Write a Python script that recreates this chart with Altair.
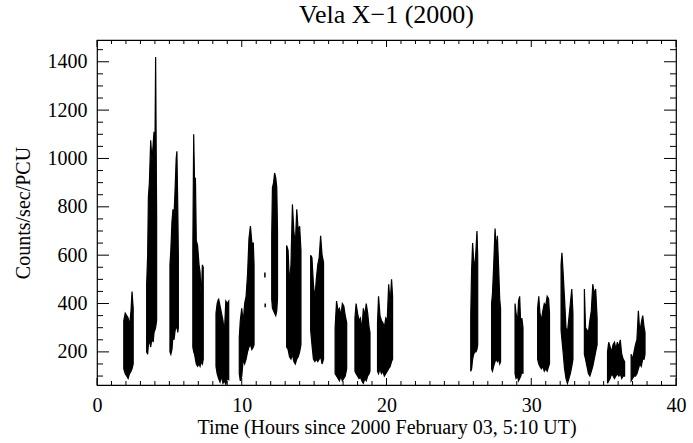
import altair as alt
import pandas as pd

# ---- light-curve data: each segment is a set of (time, low, high) envelope samples ----
seg_t = [
    [1.85, 1.95, 2.05, 2.15, 2.25, 2.35, 2.42, 2.5],
    [3.43, 3.5, 3.55, 3.62, 3.71, 3.8, 3.88, 3.94, 4.0, 4.05, 4.12],
    [5.04, 5.1, 5.18, 5.25, 5.32, 5.4, 5.47, 5.52, 5.58, 5.62],
    [6.62, 6.68, 6.74, 6.8, 6.86, 6.95, 7.05, 7.12, 7.2, 7.28, 7.34],
    [8.22, 8.3, 8.4, 8.5, 8.6, 8.7, 8.8, 8.9, 9.0, 9.1],
    [9.83, 9.9, 10.0, 10.1, 10.2, 10.3, 10.4, 10.5, 10.6, 10.7, 10.8, 10.85],
    [12.07, 12.12, 12.2, 12.27, 12.35, 12.42, 12.47],
    [13.1, 13.2, 13.3, 13.4, 13.5, 13.6, 13.7, 13.8, 13.9, 14.0, 14.09],
    [14.76, 14.85, 14.95, 15.05, 15.15, 15.25, 15.35, 15.45, 15.55, 15.65],
    [16.45, 16.55, 16.65, 16.75, 16.85, 16.95, 17.05, 17.15, 17.25],
    [17.82, 17.9, 18.0, 18.1, 18.2, 18.3, 18.4, 18.5, 18.6, 18.7, 18.8, 18.86],
    [19.38, 19.45, 19.55, 19.65, 19.75, 19.85, 19.95, 20.05, 20.15, 20.25, 20.35, 20.42],
    [25.82, 25.88, 25.95, 26.02, 26.1, 26.18, 26.25, 26.3],
    [27.26, 27.32, 27.4, 27.5, 27.58, 27.66, 27.74, 27.82, 27.88],
    [28.88, 28.95, 29.05, 29.12, 29.2, 29.28, 29.35, 29.43],
    [30.44, 30.52, 30.6, 30.7, 30.8, 30.9, 31.0, 31.1, 31.2, 31.26],
    [32.06, 32.12, 32.2, 32.3, 32.4, 32.5, 32.6, 32.7, 32.8, 32.88],
    [33.67, 33.75, 33.85, 33.95, 34.05, 34.15, 34.25, 34.35, 34.45, 34.55],
    [35.27, 35.35, 35.45, 35.55, 35.65, 35.75, 35.85, 35.95, 36.05, 36.15, 36.25, 36.35, 36.45],
    [36.9, 37.0, 37.1, 37.2, 37.3, 37.4, 37.5, 37.6, 37.7, 37.8, 37.86],
]
seg_lo = [
    [130, 110, 100, 90, 110, 120, 130, 150],
    [200, 190, 230, 250, 220, 260, 240, 280, 290, 300, 330],
    [200, 190, 210, 270, 250, 290, 300, 310, 280, 300],
    [220, 200, 190, 170, 150, 140, 150, 140, 160, 150, 170],
    [140, 110, 90, 75, 100, 70, 80, 65, 90, 85],
    [110, 80, 100, 170, 150, 170, 200, 220, 230, 210, 220, 230],
    [420, 380, 370, 360, 350, 370, 420],
    [220, 210, 180, 170, 190, 160, 150, 170, 180, 200, 230],
    [290, 230, 170, 160, 170, 160, 170, 180, 150, 170],
    [110, 100, 90, 80, 100, 80, 90, 100, 130],
    [120, 110, 100, 90, 95, 80, 70, 90, 80, 100, 110, 120],
    [120, 110, 130, 110, 120, 100, 110, 120, 130, 140, 160, 170],
    [120, 130, 170, 190, 200, 200, 210, 230],
    [130, 120, 140, 160, 170, 160, 170, 150, 160],
    [110, 90, 100, 80, 90, 100, 120, 110],
    [170, 150, 140, 130, 140, 120, 130, 120, 140, 150],
    [290, 250, 200, 130, 90, 70, 90, 110, 140, 170],
    [190, 170, 140, 110, 100, 120, 140, 170, 200, 230],
    [70, 80, 90, 110, 100, 90, 100, 110, 100, 110, 90, 100, 100],
    [80, 90, 100, 100, 110, 130, 150, 140, 170, 170, 190],
]
seg_hi = [
    [330, 360, 350, 340, 310, 370, 450, 380],
    [480, 600, 840, 900, 1075, 990, 1060, 1110, 1000, 1420, 760],
    [560, 620, 740, 790, 760, 880, 1000, 1030, 800, 600],
    [620, 1100, 900, 920, 660, 640, 560, 530, 420, 560, 550],
    [360, 400, 420, 390, 360, 330, 280, 410, 400, 410],
    [260, 330, 380, 320, 400, 430, 520, 670, 720, 650, 650, 560],
    [680, 880, 900, 940, 920, 880, 700],
    [640, 620, 480, 560, 810, 700, 640, 790, 700, 720, 620],
    [600, 590, 480, 420, 500, 560, 590, 680, 600, 570],
    [300, 410, 370, 380, 350, 400, 390, 350, 320],
    [340, 400, 360, 330, 340, 290, 380, 350, 400, 360, 300, 280],
    [320, 430, 350, 330, 320, 300, 340, 330, 480, 400, 500, 430],
    [350, 540, 650, 580, 550, 620, 700, 600],
    [400, 440, 550, 710, 620, 680, 560, 420, 380],
    [400, 360, 320, 410, 430, 300, 340, 300],
    [380, 430, 360, 330, 370, 400, 390, 430, 420, 360],
    [560, 610, 530, 420, 300, 280, 340, 400, 460, 360],
    [460, 300, 290, 280, 330, 370, 480, 440, 460, 340],
    [200, 240, 220, 200, 230, 240, 210, 240, 220, 250, 190, 170, 160],
    [190, 170, 200, 230, 250, 370, 280, 320, 350, 300, 280],
]
# isolated short data fragments near t ~ 11.6 h
iso_t = [11.6, 11.62]
iso_lo = [508, 385]
iso_hi = [528, 400]

x_major = [0, 10, 20, 30, 40]
x_minor = [v for v in range(0, 41) if v % 10 != 0]
y_major = [200, 400, 600, 800, 1000, 1200, 1400]
y_minor = [v for v in range(100, 1500, 50) if v % 200 != 0]

X_DOMAIN = [0, 40]
Y_DOMAIN = [63, 1490]

rows = []
for i, (ts, los, his) in enumerate(zip(seg_t, seg_lo, seg_hi)):
    for t, lo, hi in zip(ts, los, his):
        rows.append({"seg": i, "t": t, "lo": lo, "hi": hi})
df = pd.DataFrame(rows)
df_iso = pd.DataFrame({"t": iso_t, "lo": iso_lo, "hi": iso_hi})

W, H = 579, 345
FONT = "Liberation Serif"
xs = alt.Scale(domain=X_DOMAIN, nice=False, zero=False)
ys = alt.Scale(domain=Y_DOMAIN, nice=False, zero=False)

x_axis = alt.Axis(values=x_major, format="d", ticks=False, domain=False, grid=False,
                  labelFont=FONT, labelFontSize=20, labelColor="black", labelPadding=10,
                  labelFlush=False,
                  title="Time (Hours since 2000 February 03, 5:10 UT)",
                  titleFont=FONT, titleFontSize=20, titleFontWeight="normal",
                  titleColor="black", titlePadding=2)
y_axis = alt.Axis(values=y_major, format="d", ticks=False, domain=False, grid=False,
                  labelFont=FONT, labelFontSize=20, labelColor="black", labelPadding=10,
                  labelFlush=False,
                  title="Counts/sec/PCU", titleFont=FONT, titleFontSize=20,
                  titleFontWeight="normal", titleColor="black", titlePadding=14)

curve = alt.Chart(df).mark_area(color="black", stroke="black", strokeWidth=1.2,
                                interpolate="linear").encode(
    x=alt.X("t:Q", scale=xs, axis=x_axis),
    y=alt.Y("lo:Q", scale=ys, axis=y_axis),
    y2="hi:Q",
    detail="seg:N",
)

iso = alt.Chart(df_iso).mark_rule(color="black", strokeWidth=1.5).encode(
    x=alt.X("t:Q", scale=xs, axis=x_axis),
    y=alt.Y("lo:Q", scale=ys, axis=y_axis),
    y2="hi:Q",
)


def xticks(vals, length):
    d = pd.DataFrame({"v": vals})
    bottom = alt.Chart(d).mark_rule(color="black", strokeWidth=1).encode(
        x=alt.X("v:Q", scale=xs, axis=x_axis), y=alt.value(H), y2=alt.value(H - length))
    top = alt.Chart(d).mark_rule(color="black", strokeWidth=1).encode(
        x=alt.X("v:Q", scale=xs, axis=x_axis), y=alt.value(0), y2=alt.value(length))
    return [bottom, top]


def yticks(vals, length):
    d = pd.DataFrame({"v": vals})
    left = alt.Chart(d).mark_rule(color="black", strokeWidth=1).encode(
        y=alt.Y("v:Q", scale=ys, axis=y_axis), x=alt.value(0), x2=alt.value(length))
    right = alt.Chart(d).mark_rule(color="black", strokeWidth=1).encode(
        y=alt.Y("v:Q", scale=ys, axis=y_axis), x=alt.value(W), x2=alt.value(W - length))
    return [left, right]


layers = [curve, iso] + xticks(x_major, 7) + xticks(x_minor, 4) + yticks(y_major, 12) + yticks(y_minor, 6)

chart = alt.layer(*layers).properties(
    width=W, height=H,
    autosize="none",
    padding={"left": 97, "top": 40, "right": 17, "bottom": 58},
    title=alt.TitleParams("Vela X\u22121 (2000)", font=FONT, fontSize=26,
                          fontWeight="normal", color="black", anchor="middle", offset=12),
    background="white",
).configure_view(stroke="black", strokeWidth=1.2)

chart.save("out.html", embed_options={"renderer": "svg", "actions": False})
